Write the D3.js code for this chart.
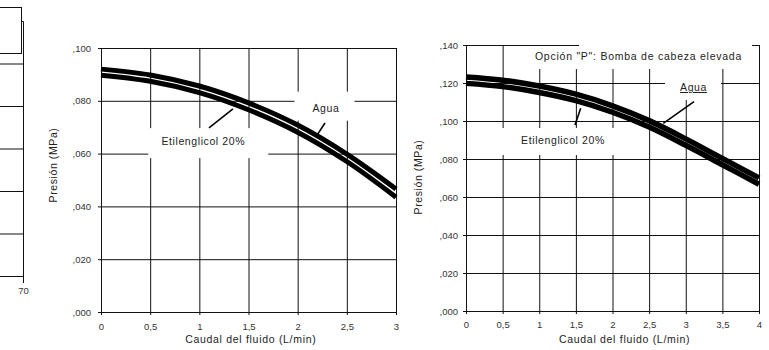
<!DOCTYPE html>
<html>
<head>
<meta charset="utf-8">
<script src="https://cdn.jsdelivr.net/npm/d3@7"></script>
<style>
  body { margin: 0; background: #fff; }
  svg { display: block; }
  text { font-family: "Liberation Sans", Arial, sans-serif; }
</style>
</head>
<body>
<svg width="769" height="350"></svg>
<script>
// flow (L/min) vs pressure (MPa)
const flowA = [0, 0.5, 1, 1.5, 2, 2.5, 3];
const aguaA = [0.0920, 0.0898, 0.0856, 0.0792, 0.0708, 0.0598, 0.0466];
const glicolA = [0.0897, 0.0874, 0.0831, 0.0766, 0.0681, 0.0570, 0.0435];

const flowB = [0, 0.5, 1, 1.5, 2, 2.5, 3, 3.5, 4];
const aguaB = [0.1232, 0.1215, 0.1184, 0.1141, 0.1080, 0.1002, 0.0906, 0.0803, 0.0701];
const glicolB = [0.1198, 0.1181, 0.1150, 0.1107, 0.1046, 0.0968, 0.0872, 0.0770, 0.0667];

const xTicksA = [0, 0.5, 1, 1.5, 2, 2.5, 3];
const yTicksA = [0, 0.02, 0.04, 0.06, 0.08, 0.1];
const xTicksB = [0, 0.5, 1, 1.5, 2, 2.5, 3, 3.5, 4];
const yTicksB = [0, 0.02, 0.04, 0.06, 0.08, 0.1, 0.12, 0.14];

// cut-off chart on the left edge
const xTicksFrag = [70];
const yTicksFrag = [0, 0.02, 0.04, 0.06, 0.08, 0.1, 0.12];

const yTitle = 'Presión  (MPa)';
const xTitle = 'Caudal del fluido (L/min)';
const labelAgua = 'Agua';
const labelGlicol = 'Etilenglicol 20%';
const titleB = 'Opción "P": Bomba de cabeza elevada';

const svg = d3.select('svg');
svg.append('rect').attr('width', 769).attr('height', 350).attr('fill', '#fff');

const fmtY = d => ',' + d3.format('03d')(Math.round(d * 1000));
const fmtX = d => String(d).replace('.', ',');

/* left fragment */
function drawFragment() {
    var fx = d3.scaleLinear().domain([60, 70]).range([-270, 23]);
    var fy = d3.scaleLinear().domain([0, 0.12]).range([276, 21]);
    var g = svg.append('g');
    g.selectAll('.hl').data(yTicksFrag).enter().append('line')
        .attr('x1', 0).attr('x2', fx(70) + 0.5)
        .attr('y1', d => fy(d) + 0.5).attr('y2', d => fy(d) + 0.5)
        .attr('stroke', '#111');
    g.selectAll('.vl').data(xTicksFrag).enter().append('line')
        .attr('x1', d => fx(d) + 0.5).attr('x2', d => fx(d) + 0.5)
        .attr('y1', fy(0.12) + 0.5).attr('y2', fy(0) + 7)
        .attr('stroke', '#111');
    g.selectAll('.vt').data(xTicksFrag).enter().append('text')
        .attr('x', d => fx(d) + 0.5).attr('y', 293.5)
        .attr('text-anchor', 'middle').attr('font-size', 9.5).attr('fill', '#333')
        .text(d => d);
    // legend box poking in from the left
    g.append('rect').attr('x', -1).attr('y', 7.5).attr('width', 22.5).attr('height', 46)
        .attr('fill', '#fff').attr('stroke', '#111');
}

function drawPanel(p) {
    var x = d3.scaleLinear().domain([0, d3.max(p.xTicks)]).range(p.xRange);
    var y = d3.scaleLinear().domain([0, d3.max(p.yTicks)]).range(p.yRange);
    var w = p.xRange[1] - p.xRange[0];
    var h = p.yRange[0] - p.yRange[1];

    var g = svg.append('g').attr('transform', 'translate(' + p.xRange[0] + ',' + p.yRange[1] + ')');
    x.range([0, w]);
    y.range([h, 0]);

    // y grid + labels
    var ya = g.append('g')
        .call(d3.axisLeft(y).tickValues(p.yTicks).tickSize(3).tickPadding(p.yPad).tickFormat(fmtY));
    ya.select('.domain').remove();
    ya.selectAll('.tick line').attr('x1', w + 0.5).attr('x2', -3).attr('stroke', '#111');
    ya.selectAll('.tick text').attr('font-size', 9.5).attr('fill', '#333')
        .attr('font-family', '"Liberation Sans", Arial, sans-serif');

    // x grid + labels
    var xa = g.append('g').attr('transform', 'translate(0,' + h + ')')
        .call(d3.axisBottom(x).tickValues(p.xTicks).tickSize(3).tickPadding(p.xPad).tickFormat(fmtX));
    xa.select('.domain').remove();
    xa.selectAll('.tick line').attr('y1', -h).attr('stroke', '#111');
    xa.selectAll('.tick text').attr('font-size', 9.5).attr('fill', '#333')
        .attr('font-family', '"Liberation Sans", Arial, sans-serif');

    // white boxes behind the labels cut the grid
    p.labels.forEach(l => {
        g.append('rect')
            .attr('x', x(l.x) + l.box[0]).attr('y', y(l.y) + l.box[1])
            .attr('width', l.box[2]).attr('height', l.box[3])
            .attr('fill', '#fff');
    });
    if (p.topBorderTo) {
        g.append('line')
            .attr('x1', x(0)).attr('x2', x(p.topBorderTo))
            .attr('y1', y(d3.max(p.yTicks)) + 0.5).attr('y2', y(d3.max(p.yTicks)) + 0.5)
            .attr('stroke', '#111');
    }

    var line = d3.line()
        .x(d => x(d[0]))
        .y(d => y(d[1]))
        .curve(d3.curveCatmullRom);

    [d3.zip(p.flow, p.agua), d3.zip(p.flow, p.glicol)].forEach(s => {
        g.append('path')
            .datum(s)
            .attr('fill', 'none')
            .attr('stroke', '#000')
            .attr('stroke-width', p.curveW)
            .attr('stroke-linejoin', 'round')
            .attr('d', line);
    });

    p.leaders.forEach(l => {
        g.append('line')
            .attr('x1', x(l[0][0])).attr('y1', y(l[0][1]))
            .attr('x2', x(l[1][0])).attr('y2', y(l[1][1]))
            .attr('stroke', '#000').attr('stroke-width', 1.6);
    });

    p.labels.forEach(l => {
        g.append('text')
            .attr('x', x(l.x)).attr('y', y(l.y))
            .attr('text-anchor', 'middle')
            .attr('font-size', 10.5)
            .attr('letter-spacing', l.ls)
            .attr('fill', '#222')
            .style('text-decoration', l.underline ? 'underline' : null)
            .text(l.text);
    });

    svg.append('text')
        .attr('transform', 'translate(' + p.yTitlePos[0] + ',' + p.yTitlePos[1] + ') rotate(-90)')
        .attr('text-anchor', 'middle').attr('dy', '0.35em')
        .attr('font-size', 10.5).attr('letter-spacing', 0.6).attr('fill', '#222')
        .text(yTitle);

    svg.append('text')
        .attr('x', p.xTitlePos[0]).attr('y', p.xTitlePos[1])
        .attr('text-anchor', 'middle')
        .attr('font-size', 10.5).attr('letter-spacing', 0.7).attr('fill', '#222')
        .text(xTitle);
}

drawFragment();

drawPanel({
    flow: flowA, agua: aguaA, glicol: glicolA,
    xTicks: xTicksA, yTicks: yTicksA,
    xRange: [101, 396], yRange: [312, 48],
    yPad: 7, xPad: 7.8, curveW: 5,
    yTitlePos: [53, 165], xTitlePos: [250.8, 343],
    labels: [
        { text: labelAgua, x: 2.288, y: 0.0759, box: [-31.5, -20, 60, 29], ls: 0.6 },
        { text: labelGlicol, x: 1.040, y: 0.0634, box: [-55, -16.5, 120, 30], ls: 0.6 }
    ],
    leaders: [
        [[2.278, 0.0716], [2.197, 0.0670]],
        [[1.342, 0.0769], [1.098, 0.0697]]
    ]
});

drawPanel({
    flow: flowB, agua: aguaB, glicol: glicolB,
    xTicks: xTicksB, yTicks: yTicksB,
    xRange: [466, 759], yRange: [311, 45],
    yPad: 5, xPad: 7.1, curveW: 5.5,
    yTitlePos: [418, 177], xTitlePos: [624.6, 342.5],
    topBorderTo: 1.543,
    labels: [
        { text: titleB, x: 2.355, y: 0.1321, box: [-108.5, -24, 222, 33], ls: 0.75 },
        { text: labelAgua, x: 3.106, y: 0.1158, box: [-28.5, -25, 56, 34], ls: 0.6, underline: true },
        { text: labelGlicol, x: 1.324, y: 0.0879, box: [-66, -16, 123, 27], ls: 0.6 }
    ],
    leaders: [
        [[3.113, 0.1102], [2.693, 0.0988]],
        [[1.566, 0.1067], [1.488, 0.0979]]
    ]
});
</script>
</body>
</html>
